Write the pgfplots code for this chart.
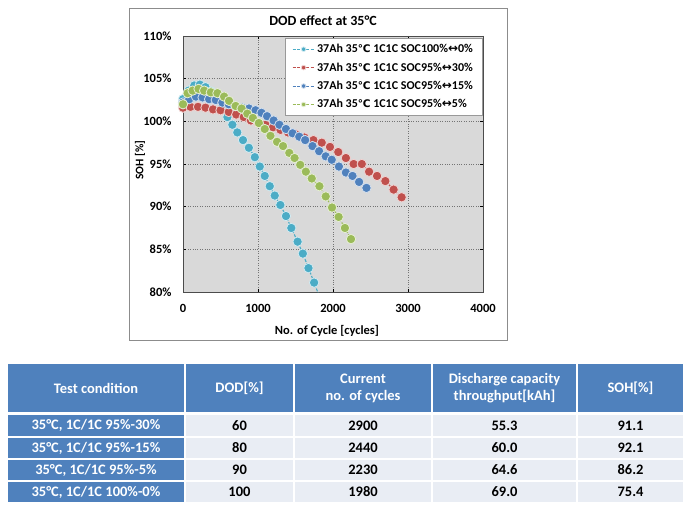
\documentclass[border=0pt]{standalone}
\usepackage{pgfplots}
\pgfplotsset{compat=1.18}
\usepackage{fontspec}
\setmainfont{Carlito}
\newfontfamily\sym{DejaVu Sans}
\definecolor{cCyan}{HTML}{4BACC6}
\definecolor{cRed}{HTML}{C0504D}
\definecolor{cBlue}{HTML}{4F81BD}
\definecolor{cGreen}{HTML}{9BBB59}
\definecolor{plotgray}{HTML}{D9D9D9}
\definecolor{hdr}{HTML}{4F81BD}
\definecolor{cellbg}{HTML}{E9EDF4}
\newcommand{\cel}{{\sym\fontsize{10.5}{12}\selectfont ℃}}
\newcommand{\arr}{{\sym ↔}}
\pgfplotsset{
  ser/.style={color=#1, dash pattern=on 3pt off 1.5pt, line width=1.1pt,
    mark=*, mark size=4.7pt,
    mark options={solid, fill=#1, draw=white!75!#1, line width=0.8pt}},
}
\begin{document}
\begin{tikzpicture}
\path[use as bounding box, fill=white] (0,0) rectangle (700pt,-514pt);
\begin{scope}[x=1pt,y=-1pt]
  \draw[black!45, line width=0.8pt, fill=white] (129,8) rectangle (507,340);
  \node[font=\bfseries\fontsize{14}{16}\selectfont] at (323,21) {DOD effect at 35°C};
  \node[font=\bfseries\fontsize{11.5}{13}\selectfont, rotate=90] at (140,160) {SOH [\%]};
  \node[font=\bfseries\fontsize{12.5}{14}\selectfont] at (327,331) {No. of Cycle [cycles]};
\end{scope}
\begin{axis}[
  at={(183pt,-36pt)}, anchor=north west,
  scale only axis, width=300pt, height=256pt,
  xmin=0, xmax=4000, ymin=80, ymax=110,
  axis background/.style={fill=plotgray},
  grid=major,
  major grid style={dotted, black!55, line width=0.7pt},
  axis line style={black!70, line width=0.9pt},
  tick align=inside, major tick length=3pt,
  tick style={black, line width=0.8pt},
  scaled x ticks=false,
  xtick={0,1000,2000,3000,4000},
  xticklabels={0,1000,2000,3000,4000},
  ytick={80,85,90,95,100,105,110},
  yticklabels={80\%,85\%,90\%,95\%,100\%,105\%,110\%},
  ticklabel style={font=\bfseries\fontsize{12.5}{14}\selectfont},
  xticklabel style={yshift=-9pt},
  yticklabel style={xshift=-8pt},
  legend cell align=left,
  legend style={at={(0.997,0.992)}, anchor=north east, draw=black!40, fill=white,
    font=\bfseries\fontsize{12}{14}\selectfont, row sep=4.5pt, inner xsep=7pt, inner ysep=4pt},
  legend image code/.code={
    \draw[mark repeat=2, mark phase=2, #1, mark size=2.3pt, line width=1pt]
      plot coordinates {(0pt,0pt) (11pt,0pt) (22pt,0pt)};},
]
\addplot[ser=cCyan] coordinates {
(0,102.6) (75,103.6) (150,104.2) (225,104.3) (300,104.0) (375,103.5) (450,102.6)
(520,101.6) (592,100.5) (658,99.6) (724,98.7) (800,97.8) (878,96.9) (958,95.8)
(1024,94.7) (1090,93.6) (1157,92.4) (1223,91.3) (1298,90.2) (1373,88.9) (1444,87.5)
(1528,85.9) (1598,84.5) (1673,82.8) (1748,81.1) (1830,79.2) (1905,77.3) (1980,75.4)};
\addlegendentry{37Ah 35\cel\ 1C1C SOC100\%\arr0\%}
\addplot[ser=cRed] coordinates {
(0,101.6) (100,101.7) (200,101.7) (300,101.6) (400,101.4) (500,101.3) (610,101.1)
(710,100.8) (810,100.5) (905,100.1) (1000,99.8) (1100,99.6) (1200,99.3) (1300,99.0)
(1400,98.7) (1500,98.5) (1620,98.1) (1739,97.8) (1850,97.5) (1960,97.0) (2070,96.4)
(2172,95.7) (2275,95.0) (2384,95.0) (2481,94.1) (2587,93.6) (2698,93.0) (2808,92.0)
(2915,91.1)};
\addlegendentry{37Ah 35\cel\ 1C1C SOC95\%\arr30\%}
\addplot[ser=cBlue] coordinates {
(0,102.2) (84,102.6) (172,102.9) (261,102.8) (348,102.6) (437,102.5) (525,102.2)
(610,102.0) (700,101.8) (790,101.6) (880,101.5) (967,101.3) (1046,101.0) (1121,100.6)
(1209,100.1) (1285,99.6) (1373,99.1) (1461,98.6) (1550,98.2) (1629,97.8) (1726,97.1)
(1815,96.5) (1903,95.9) (1983,95.5) (2079,94.7) (2172,94.0) (2260,93.6) (2348,92.9)
(2446,92.2)};
\addlegendentry{37Ah 35\cel\ 1C1C SOC95\%\arr15\%}
\addplot[ser=cGreen] coordinates {
(0,102.0) (62,103.3) (128,103.6) (207,103.8) (282,103.6) (371,103.4) (459,103.3)
(548,102.9) (614,102.4) (702,101.8) (781,101.5) (857,100.9) (931,100.4) (1011,99.8)
(1090,99.1) (1166,98.3) (1254,97.6) (1334,97.1) (1417,96.3) (1488,95.7) (1563,94.9)
(1638,94.1) (1717,93.3) (1819,92.4) (1903,91.2) (1987,89.9) (2075,88.8) (2159,87.5)
(2240,86.2)};
\addlegendentry{37Ah 35\cel\ 1C1C SOC95\%\arr5\%}
\end{axis}
\begin{scope}[x=1pt,y=-1pt]
  % header
  \foreach \a/\b in {7/185,185/294,294/432,432/577,577/684}{
    \fill[hdr] (\a+1,364) rectangle (\b-1,412);
  }
  \foreach \t/\bt in {415/436,438/458,460/480,482/502}{
    \fill[hdr] (8,\t) rectangle (184,\bt);
    \foreach \a/\b in {185/294,294/432,432/577,577/684}{
      \fill[cellbg] (\a+1,\t) rectangle (\b-1,\bt);
    }
  }
  \begin{scope}[every node/.style={font=\bfseries\fontsize{14.5}{17}\selectfont, text=white, align=center}]
    \node at (96,388) {Test condition};
    \node at (239.5,388) {DOD[\%]};
    \node at (363,388) {Current\\no. of cycles};
    \node at (504.5,388) {Discharge capacity\\throughput[kAh]};
    \node at (630.5,388) {SOH[\%]};
    \node at (96,425.5) {35°C, 1C/1C 95\%-30\%};
    \node at (96,448) {35°C, 1C/1C 95\%-15\%};
    \node at (96,470) {35°C, 1C/1C 95\%-5\%};
    \node at (96,492) {35°C, 1C/1C 100\%-0\%};
  \end{scope}
  \begin{scope}[every node/.style={font=\bfseries\fontsize{14.5}{17}\selectfont, text=black}]
    \node at (239.5,425.5) {60};   \node at (363,425.5) {2900}; \node at (504.5,425.5) {55.3}; \node at (630.5,425.5) {91.1};
    \node at (239.5,448) {80};     \node at (363,448) {2440};   \node at (504.5,448) {60.0};   \node at (630.5,448) {92.1};
    \node at (239.5,470) {90};     \node at (363,470) {2230};   \node at (504.5,470) {64.6};   \node at (630.5,470) {86.2};
    \node at (239.5,492) {100};    \node at (363,492) {1980};   \node at (504.5,492) {69.0};   \node at (630.5,492) {75.4};
  \end{scope}
\end{scope}
\end{tikzpicture}
\end{document}
